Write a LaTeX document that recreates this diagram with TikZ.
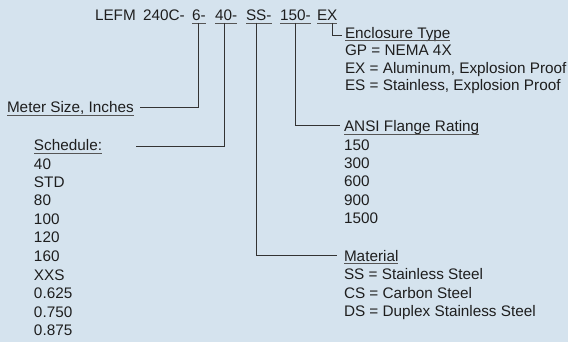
\documentclass[tikz,border=0pt]{standalone}
\usepackage{fontspec}
\setmainfont{Liberation Sans}
\usetikzlibrary{calc}
\definecolor{bgc}{HTML}{D5E3EE}
\definecolor{txt}{HTML}{1E1E1E}
\definecolor{lnc}{HTML}{333333}
\definecolor{ulc}{HTML}{555555}
\begin{document}
\begin{tikzpicture}[x=1pt,y=-1pt,
  lbl/.style={anchor=base west,inner sep=0pt,outer sep=0pt,text=txt,font=\fontsize{15.3}{18}\selectfont},
  conn/.style={draw=lnc,line width=1pt},
  uline/.style={draw=ulc,line width=0.9pt}]
\fill[bgc] (0,0) rectangle (568,342);
\useasboundingbox (0,0) rectangle (568,342);
% top code row
\node[lbl] (tL) at (95,21) {LEFM};
\node[lbl] (tC) at (143,21) {240C-};
\node[lbl] (t6) at (192,21) {6-};
\node[lbl] (t40) at (215,21) {40-};
\node[lbl] (tSS) at (246,21) {SS-};
\node[lbl] (t150) at (280,21) {150-};
\node[lbl] (tEX) at (317,21) {EX};
\foreach \n in {t6,t40,tSS,t150,tEX}
  \draw[uline] ([yshift=-2pt]\n.base west) -- ([yshift=-2pt]\n.base east);
\coordinate (u6) at ([yshift=-2pt]$(t6.base west)!0.45!(t6.base east)$);
\coordinate (u40) at ([yshift=-2pt]$(t40.base west)!0.45!(t40.base east)$);
\coordinate (uSS) at ([yshift=-2pt]$(tSS.base west)!0.42!(tSS.base east)$);
\coordinate (u150) at ([yshift=-2pt]$(t150.base west)!0.5!(t150.base east)$);
\coordinate (uEX) at ([shift={(-5pt,-2pt)}]tEX.base east);
% Meter size
\node[lbl] (meter) at (7,113) {Meter Size, Inches};
\draw[uline] ([yshift=-2pt]meter.base west) -- ([yshift=-2pt]meter.base east);
% Schedule
\node[lbl] (sched) at (34,151) {Schedule:};
\draw[uline] ([yshift=-2pt]sched.base west) -- ([yshift=-2pt]sched.base east);
\node[lbl] (s1) at (34,169.5) {40};
\node[lbl] (s2) at (34,188) {STD};
\node[lbl] (s3) at (34,206) {80};
\node[lbl] (s4) at (34,224.5) {100};
\node[lbl] (s5) at (34,243) {120};
\node[lbl] (s6) at (34,261) {160};
\node[lbl] (s7) at (34,280) {XXS};
\node[lbl] (s8) at (34,298) {0.625};
\node[lbl] (s9) at (34,317) {0.750};
\node[lbl] (s10) at (34,335) {0.875};
% Enclosure
\node[lbl] (encl) at (345,38.5) {Enclosure Type};
\draw[uline] ([yshift=-2pt]encl.base west) -- ([yshift=-2pt]encl.base east);
\node[lbl] (e1) at (345,56) {GP = NEMA 4X};
\node[lbl] (e2) at (345,73.5) {EX = Aluminum, Explosion Proof};
\node[lbl] (e3) at (345,91) {ES = Stainless, Explosion Proof};
% ANSI
\node[lbl] (ansi) at (344,132) {ANSI Flange Rating};
\draw[uline] ([yshift=-2pt]ansi.base west) -- ([yshift=-2pt]ansi.base east);
\node[lbl] (a1) at (344,151) {150};
\node[lbl] (a2) at (344,169) {300};
\node[lbl] (a3) at (344,187) {600};
\node[lbl] (a4) at (344,205) {900};
\node[lbl] (a5) at (344,223.5) {1500};
% Material
\node[lbl] (mat) at (344,261) {Material};
\draw[uline] ([yshift=-2pt]mat.base west) -- ([yshift=-2pt]mat.base east);
\node[lbl] (m1) at (344,279.5) {SS = Stainless Steel};
\node[lbl] (m2) at (344,298) {CS = Carbon Steel};
\node[lbl] (m3) at (344,316.5) {DS = Duplex Stainless Steel};
% connectors
\draw[conn] (u6) |- ([shift={(6pt,5pt)}]meter.base east);
\draw[conn] (u40) |- ([shift={(34pt,4pt)}]sched.base east);
\draw[conn] (uSS) |- ([shift={(-7pt,6pt)}]mat.base west);
\draw[conn] (u150) |- ([shift={(-4pt,6pt)}]ansi.base west);
\draw[conn] (uEX) |- ([shift={(-3pt,3pt)}]encl.base west);
\end{tikzpicture}
\end{document}
